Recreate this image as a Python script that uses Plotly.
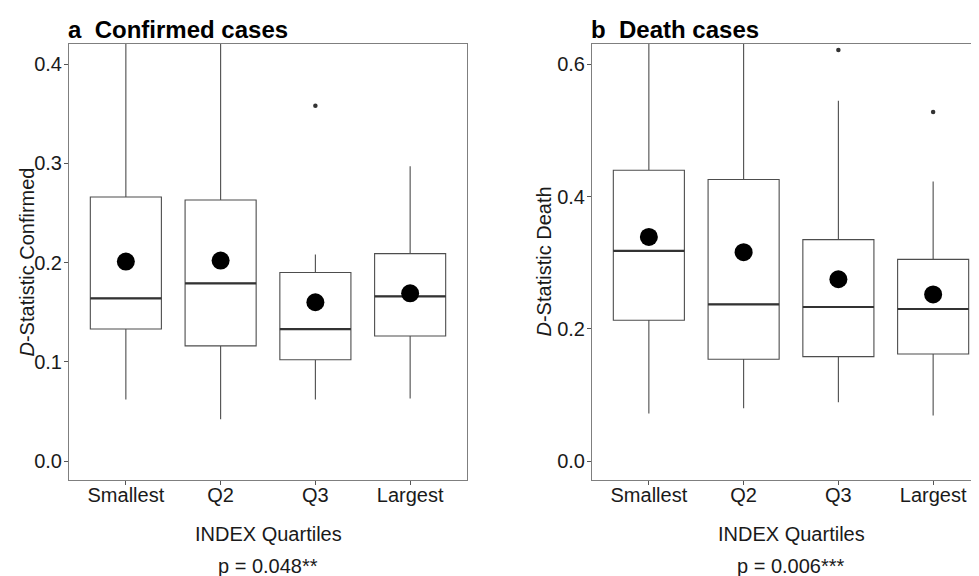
import plotly.graph_objects as go

categories = ["Smallest", "Q2", "Q3", "Largest"]
positions = [1, 2, 3, 4]

conf_q1 = [0.133, 0.116, 0.102, 0.126]
conf_median = [0.164, 0.179, 0.133, 0.166]
conf_q3 = [0.266, 0.263, 0.190, 0.209]
conf_lower = [0.062, 0.042, 0.062, 0.063]
conf_upper = [0.47, 0.46, 0.208, 0.297]
conf_mean = [0.201, 0.202, 0.160, 0.169]
conf_outlier_cat = [3]
conf_outlier_val = [0.358]

death_q1 = [0.213, 0.154, 0.158, 0.162]
death_median = [0.318, 0.237, 0.233, 0.230]
death_q3 = [0.440, 0.426, 0.335, 0.305]
death_lower = [0.072, 0.080, 0.089, 0.069]
death_upper = [0.70, 0.68, 0.545, 0.423]
death_mean = [0.339, 0.316, 0.275, 0.252]
death_outlier_cat = [3, 4]
death_outlier_val = [0.622, 0.528]

conf_ticks = [0.0, 0.1, 0.2, 0.3, 0.4]
death_ticks = [0.0, 0.2, 0.4, 0.6]

BOX_W = 0.75
FONT = "Liberation Sans, Arial, Helvetica, sans-serif"
OFF = 8  # page body margin
W, H = 979 - OFF, 576 - OFF


def px(x):
    return (x - OFF) / W


def py(y):
    return 1 - (y - OFF) / H


fig = go.Figure()


def add_panel(q1, med, q3, lo, hi, mean, ocat, oval, xa, ya):
    fig.add_trace(go.Box(
        x=positions, q1=q1, median=med, q3=q3, lowerfence=lo, upperfence=hi,
        width=BOX_W, whiskerwidth=0, boxpoints=False,
        fillcolor="white", line=dict(color="#4d4d4d", width=1.1),
        xaxis=xa, yaxis=ya, showlegend=False, hoverinfo="skip"))
    mx, my = [], []
    for p, m in zip(positions, med):
        mx += [p - BOX_W / 2, p + BOX_W / 2, None]
        my += [m, m, None]
    fig.add_trace(go.Scatter(x=mx, y=my, mode="lines",
                             line=dict(color="#333333", width=2.2),
                             xaxis=xa, yaxis=ya, showlegend=False, hoverinfo="skip"))
    fig.add_trace(go.Scatter(x=positions, y=mean, mode="markers",
                             marker=dict(color="black", size=18),
                             xaxis=xa, yaxis=ya, showlegend=False, hoverinfo="skip"))
    fig.add_trace(go.Scatter(x=ocat, y=oval, mode="markers",
                             marker=dict(color="#333333", size=4.5),
                             xaxis=xa, yaxis=ya, showlegend=False, hoverinfo="skip"))


add_panel(conf_q1, conf_median, conf_q3, conf_lower, conf_upper, conf_mean,
          conf_outlier_cat, conf_outlier_val, "x", "y")
add_panel(death_q1, death_median, death_q3, death_lower, death_upper, death_mean,
          death_outlier_cat, death_outlier_val, "x2", "y2")

frame = "#7f7f7f"
tickfont = dict(family=FONT, size=20, color="#1a1a1a")
common_x = dict(tickvals=positions, ticktext=categories, showline=True,
                linecolor=frame, linewidth=1, ticks="outside", ticklen=4,
                tickcolor="#555555", showgrid=False, zeroline=False,
                tickfont=tickfont, fixedrange=True, automargin=False,
                ticklabelstandoff=-7)
common_y = dict(showline=True, linecolor=frame, linewidth=1, ticks="outside",
                ticklen=4, tickcolor="#555555", showgrid=False, zeroline=False,
                tickfont=tickfont, tickformat=".1f", fixedrange=True, automargin=False,
                ticklabelstandoff=-2)

panel_bottom, panel_top = 480, 44
ydom = [py(panel_bottom), py(panel_top)]

fig.update_layout(
    width=W, height=H,
    margin=dict(l=0, r=0, t=0, b=0),
    paper_bgcolor="white", plot_bgcolor="white",
    font=dict(family=FONT, color="#1a1a1a"),
    xaxis=dict(domain=[px(69), px(467)], range=[0.4, 4.6], anchor="y", mirror=True, **common_x),
    yaxis=dict(domain=ydom, range=[-0.0191, 0.4202], tickvals=conf_ticks, anchor="x",
               mirror=True, **common_y),
    xaxis2=dict(domain=[px(592), 1.0], range=[0.4, 0.4 + 4.2 * (979 - 592) / 398],
                anchor="y2", mirror=True, **common_x),
    yaxis2=dict(domain=ydom, range=[-0.0287, 0.6309], tickvals=death_ticks, anchor="x2",
                mirror=False, **common_y),
)

ann = []
ann.append(dict(text="<b>a\u00a0\u00a0Confirmed cases</b>", x=px(66), y=py(29.5),
                xanchor="left", yanchor="middle", font=dict(size=24, color="black")))
ann.append(dict(text="<b>b\u00a0\u00a0Death cases</b>", x=px(589), y=py(29.5),
                xanchor="left", yanchor="middle", font=dict(size=24, color="black")))
ann.append(dict(text="INDEX Quartiles", x=px(268), y=py(533.5),
                xanchor="center", yanchor="middle", font=dict(size=20)))
ann.append(dict(text="p = 0.048**", x=px(268), y=py(566),
                xanchor="center", yanchor="middle", font=dict(size=20)))
ann.append(dict(text="INDEX Quartiles", x=px(791), y=py(533.5),
                xanchor="center", yanchor="middle", font=dict(size=20)))
ann.append(dict(text="p = 0.006***", x=px(791), y=py(566),
                xanchor="center", yanchor="middle", font=dict(size=20)))
ann.append(dict(text="<i>D</i>-Statistic Confirmed", x=px(26.5), y=py(262),
                xanchor="center", yanchor="middle", textangle=-90, font=dict(size=20)))
ann.append(dict(text="<i>D</i>-Statistic Death", x=px(543.5), y=py(262),
                xanchor="center", yanchor="middle", textangle=-90, font=dict(size=20)))
for a in ann:
    a.update(xref="paper", yref="paper", showarrow=False)
fig.update_layout(annotations=ann)

fig.write_html("out.html", config={"displayModeBar": False})
